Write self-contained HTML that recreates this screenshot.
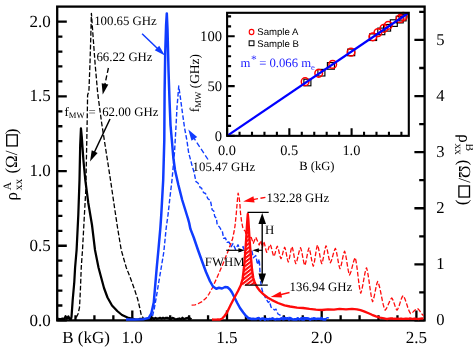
<!DOCTYPE html>
<html><head><meta charset="utf-8"><title>Magnetoresistance vs B</title>
<style>html,body{margin:0;padding:0;background:#fff;}body{width:473px;height:353px;overflow:hidden;font-family:"Liberation Serif",serif;}svg{will-change:transform;}svg text{text-rendering:geometricPrecision;}</style></head>
<body>
<svg width="473" height="353" viewBox="0 0 473 353" style="display:block">
<defs>
<pattern id="hatch" width="3.1" height="3.1" patternUnits="userSpaceOnUse" patternTransform="rotate(-38)"><rect width="3.1" height="3.1" fill="#ff0a0a"/><rect y="2.1" width="3.1" height="1.0" fill="#fff"/></pattern>
<clipPath id="plot"><rect x="57.2" y="6.6" width="367.4" height="314.4"/></clipPath>
</defs>
<rect width="473" height="353" fill="#fff"/>
<path d="M57.2,320.45h9.6 M57.2,305.51h5.2 M57.2,290.57h5.2 M57.2,275.63h5.2 M57.2,260.69h5.2 M57.2,245.75h9.6 M57.2,230.81h5.2 M57.2,215.87h5.2 M57.2,200.93h5.2 M57.2,185.99h5.2 M57.2,171.05h9.6 M57.2,156.11h5.2 M57.2,141.17h5.2 M57.2,126.23h5.2 M57.2,111.29h5.2 M57.2,96.35h9.6 M57.2,81.41h5.2 M57.2,66.47h5.2 M57.2,51.53h5.2 M57.2,36.59h5.2 M57.2,21.65h9.6 M424.6,320.45h-10.2 M424.6,292.40h-5.4 M424.6,264.35h-10.2 M424.6,236.30h-5.4 M424.6,208.25h-10.2 M424.6,180.20h-5.4 M424.6,152.15h-10.2 M424.6,124.10h-5.4 M424.6,96.05h-10.2 M424.6,68.00h-5.4 M424.6,39.95h-10.2 M424.6,11.90h-5.4 M75.48,320.4v-5.2 M94.42,320.4v-5.2 M113.36,320.4v-5.2 M132.30,320.4v-9.8 M151.24,320.4v-5.2 M170.18,320.4v-5.2 M189.12,320.4v-5.2 M208.06,320.4v-5.2 M227.00,320.4v-9.8 M245.94,320.4v-5.2 M264.88,320.4v-5.2 M283.82,320.4v-5.2 M302.76,320.4v-5.2 M321.70,320.4v-9.8 M340.64,320.4v-5.2 M359.58,320.4v-5.2 M378.52,320.4v-5.2 M397.46,320.4v-5.2 M416.40,320.4v-9.8" stroke="#000" stroke-width="2.3" fill="none"/>
<rect x="57.2" y="6.6" width="367.40000000000003" height="313.79999999999995" fill="none" stroke="#000" stroke-width="2.3"/>
<g clip-path="url(#plot)">
<path d="M76.25,317.50 L78.00,314.00 L79.50,307.50 L80.40,290.00 L81.25,267.50 L82.50,250.00 L84.40,215.00 L85.80,190.00 L86.40,160.00 L87.20,120.00 L87.60,95.00 L88.90,91.50 L90.00,63.00 L90.70,40.00 L91.40,13.30 L92.60,30.00 L95.20,65.00 L97.70,93.25 L101.50,122.00 L106.00,151.00 L110.50,180.00 L114.00,204.00 L117.50,227.50 L121.25,250.00 L126.25,267.50 L130.00,277.00 L134.00,288.00 L137.50,298.50 L139.80,308.00 L141.25,315.00 L143.75,318.75" fill="none" stroke-linejoin="round" stroke="#000" stroke-width="1.3" stroke-dasharray="4.8 2.1"/>
<path d="M58.00,318.43 L59.50,319.15 L61.00,319.06 L62.50,318.56 L64.50,318.90 L65.60,316.20 L67.00,318.60 L68.40,316.40 L69.50,318.80 L71.00,319.00 L71.50,317.00 L72.70,300.00 L74.30,282.00 L75.10,267.50 L76.60,250.00 L78.30,215.00 L79.50,180.00 L80.20,145.00 L80.95,128.30 L81.80,137.00 L83.40,160.00 L85.30,180.00 L88.30,203.00 L92.00,225.00 L95.00,250.00 L98.50,267.50 L100.50,275.00 L104.00,288.00 L107.50,297.50 L112.00,305.50 L117.50,311.25 L122.00,315.00 L127.50,317.50 L135.00,319.30 L137.00,319.56 L138.50,319.56 L140.00,318.85 L141.50,318.87 L143.00,319.47 L144.50,319.39 L146.00,319.34 L147.50,319.05 L149.00,319.28 L151.00,318.35 L152.50,318.00 L154.00,319.00 L155.50,317.84 L157.00,318.77 L158.50,318.43 L160.00,317.82 L161.50,318.71 L163.00,317.77 L164.50,318.57 L166.00,317.84 L167.50,317.88 L169.00,318.55 L170.50,319.35 L172.00,317.95 L173.50,318.15 L175.00,318.95 L176.50,319.60 L178.00,318.85 L179.50,318.49 L181.00,319.65 L182.50,317.79 L184.00,319.42 L185.50,318.28 L187.00,317.99 L188.50,317.94 L190.00,318.32 L191.50,319.33" fill="none" stroke-linejoin="round" stroke="#000" stroke-width="2.25"/>
<path d="M152.50,316.00 L154.40,308.00 L156.25,297.50 L158.80,282.00 L161.25,267.50 L163.75,252.50 L166.25,227.50 L168.00,215.00 L170.00,197.00 L172.00,180.00 L174.50,152.50 L175.80,130.00 L177.00,107.50 L178.75,86.00 L180.70,100.00 L182.60,114.00 L184.50,127.50 L187.00,141.00 L188.60,152.50 L191.90,165.00 L194.00,172.00 L196.00,181.70 L198.00,183.00 L200.20,187.60 L201.50,188.00 L203.60,192.70 L205.50,193.50 L207.90,198.70 L210.40,200.50 L211.20,204.50 L212.10,209.70 L213.80,211.00 L214.70,216.50 L216.40,218.00 L217.20,225.00 L219.50,227.00 L221.00,229.70 L222.30,231.00 L223.60,238.20 L225.50,238.00 L227.00,242.40 L229.00,242.00 L231.20,246.70 L233.00,243.60 L235.50,249.40 L238.00,244.80 L240.60,251.20 L243.10,246.50 L244.80,253.60 L247.00,248.50 L249.20,254.50 L251.60,249.80 L253.30,257.70 L255.80,255.60 L257.50,264.50 L259.20,259.20 L259.80,268.00 L260.20,279.00 L261.00,284.00 L261.90,289.00 L263.00,293.00 L265.00,297.00 L268.25,302.50 L269.50,301.50 L271.00,307.00 L274.50,310.00 L276.00,309.20 L278.00,314.00 L282.00,316.25 L284.00,317.72 L285.50,317.43 L287.00,318.07 L288.50,317.54 L290.00,317.35 L291.50,318.08 L293.00,319.22 L294.50,318.96 L296.00,318.88 L297.50,317.69 L299.00,318.38 L300.50,317.81 L302.00,317.58 L303.50,317.43 L305.00,317.67 L306.50,319.24 L308.00,319.02 L309.50,318.97 L311.00,318.96 L312.50,317.63 L314.00,317.88 L315.50,318.58 L317.00,318.81 L318.50,319.08 L320.00,319.14 L321.50,317.39 L323.00,318.53 L324.50,318.68 L326.00,318.31 L327.50,317.59 L329.00,318.24" fill="none" stroke-linejoin="round" stroke="#103cff" stroke-width="1.4" stroke-dasharray="4.6 2.1"/>
<path d="M191.60,305.10 L195.00,304.90 L198.00,303.80 L202.00,301.60 L205.60,298.60 L208.80,294.30 L212.30,288.00 L217.50,276.50 L222.50,265.00 L227.50,252.50 L232.50,239.00 L234.00,232.00 L235.00,226.00 L236.25,214.00 L237.20,202.50 L238.10,193.20 L239.00,196.50 L239.80,203.00 L240.50,213.00 L241.50,221.00 L242.70,227.20 L243.80,229.80 L245.20,231.00 L246.50,236.00 L248.00,233.00 L249.40,238.50 L250.70,236.00 L253.30,243.30 L255.80,237.30 L259.20,245.00 L260.90,240.70 L262.30,247.50 L262.48,247.04 L262.65,246.36 L262.82,245.50 L263.00,244.55 L263.18,243.60 L263.35,242.74 L263.52,242.06 L263.70,241.60 L264.09,242.43 L264.48,243.68 L264.86,245.26 L265.25,247.00 L265.64,248.74 L266.02,250.32 L266.41,251.57 L266.80,252.40 L267.23,251.79 L267.65,250.87 L268.07,249.73 L268.50,248.45 L268.93,247.17 L269.35,246.03 L269.77,245.11 L270.20,244.50 L270.66,245.42 L271.12,246.80 L271.59,248.53 L272.05,250.45 L272.51,252.37 L272.97,254.10 L273.44,255.48 L273.90,256.40 L274.32,255.61 L274.75,254.43 L275.18,252.95 L275.60,251.30 L276.02,249.65 L276.45,248.17 L276.88,246.99 L277.30,246.20 L277.76,247.16 L278.23,248.59 L278.69,250.40 L279.15,252.40 L279.61,254.40 L280.07,256.21 L280.54,257.64 L281.00,258.60 L281.46,257.73 L281.93,256.42 L282.39,254.77 L282.85,252.95 L283.31,251.13 L283.77,249.48 L284.24,248.17 L284.70,247.30 L285.15,248.43 L285.60,250.14 L286.05,252.28 L286.50,254.65 L286.95,257.02 L287.40,259.16 L287.85,260.87 L288.30,262.00 L288.76,260.82 L289.23,259.05 L289.69,256.82 L290.15,254.35 L290.61,251.88 L291.07,249.65 L291.54,247.88 L292.00,246.70 L292.48,248.01 L292.95,249.98 L293.43,252.45 L293.90,255.20 L294.38,257.95 L294.85,260.42 L295.32,262.39 L295.80,263.70 L296.39,262.47 L296.98,260.61 L297.56,258.28 L298.15,255.70 L298.74,253.12 L299.32,250.79 L299.91,248.93 L300.50,247.70 L301.04,249.07 L301.57,251.12 L302.11,253.69 L302.65,256.55 L303.19,259.41 L303.73,261.98 L304.26,264.03 L304.80,265.40 L305.32,264.06 L305.85,262.04 L306.38,259.51 L306.90,256.70 L307.43,253.89 L307.95,251.36 L308.48,249.34 L309.00,248.00 L309.54,249.40 L310.07,251.51 L310.61,254.16 L311.15,257.10 L311.69,260.04 L312.23,262.69 L312.76,264.80 L313.30,266.20 L313.82,264.56 L314.35,262.11 L314.88,259.02 L315.40,255.60 L315.93,252.18 L316.45,249.09 L316.98,246.64 L317.50,245.00 L318.04,246.44 L318.57,248.61 L319.11,251.33 L319.65,254.35 L320.19,257.37 L320.73,260.09 L321.26,262.26 L321.80,263.70 L322.32,262.32 L322.85,260.24 L323.38,257.64 L323.90,254.75 L324.43,251.86 L324.95,249.26 L325.48,247.18 L326.00,245.80 L326.54,247.11 L327.07,249.08 L327.61,251.55 L328.15,254.30 L328.69,257.05 L329.23,259.52 L329.76,261.49 L330.30,262.80 L330.94,261.69 L331.57,260.02 L332.21,257.93 L332.85,255.60 L333.49,253.27 L334.12,251.18 L334.76,249.51 L335.40,248.40 L335.97,249.97 L336.55,252.32 L337.12,255.27 L337.70,258.55 L338.27,261.83 L338.85,264.78 L339.43,267.13 L340.00,268.70 L340.57,267.35 L341.15,265.32 L341.73,262.78 L342.30,259.95 L342.88,257.12 L343.45,254.58 L344.03,252.55 L344.60,251.20 L345.21,253.04 L345.83,255.79 L346.44,259.26 L347.05,263.10 L347.66,266.94 L348.27,270.41 L348.89,273.16 L349.50,275.00 L350.21,273.66 L350.93,271.64 L351.64,269.11 L352.35,266.30 L353.06,263.49 L353.77,260.96 L354.49,258.94 L355.20,257.60 L355.89,260.35 L356.57,264.47 L357.26,269.65 L357.95,275.40 L358.64,281.15 L359.32,286.33 L360.01,290.45 L360.70,293.20 L361.43,291.24 L362.15,288.30 L362.88,284.60 L363.60,280.50 L364.32,276.40 L365.05,272.70 L365.77,269.76 L366.50,267.80 L367.26,270.42 L368.02,274.34 L368.79,279.28 L369.55,284.75 L370.31,290.22 L371.08,295.16 L371.84,299.08 L372.60,301.70 L373.24,300.13 L373.88,297.78 L374.51,294.83 L375.15,291.55 L375.79,288.27 L376.43,285.32 L377.06,282.97 L377.70,281.40 L378.62,283.62 L379.55,286.96 L380.48,291.15 L381.40,295.80 L382.32,300.45 L383.25,304.64 L384.18,307.98 L385.10,310.20 L385.94,309.26 L386.78,307.84 L387.61,306.07 L388.45,304.10 L389.29,302.13 L390.12,300.36 L390.96,298.94 L391.80,298.00 L392.45,298.94 L393.10,300.36 L393.75,302.13 L394.40,304.10 L395.05,306.07 L395.70,307.84 L396.35,309.26 L397.00,310.20 L397.76,309.07 L398.52,307.36 L399.29,305.22 L400.05,302.85 L400.81,300.48 L401.58,298.34 L402.34,296.63 L403.10,295.50 L404.04,296.90 L404.98,298.99 L405.91,301.63 L406.85,304.55 L407.79,307.47 L408.73,310.11 L409.66,312.20 L410.60,313.60 L411.45,313.21 L412.30,312.62 L413.15,311.87 L414.00,311.05 L414.85,310.23 L415.70,309.48 L416.55,308.89 L417.40,308.50 L418.17,309.05 L418.95,309.87 L419.73,310.90 L420.50,312.05 L421.27,313.20 L422.05,314.23 L422.83,315.05 L423.60,315.60" fill="none" stroke-linejoin="round" stroke="#ff0a0a" stroke-width="1.3" stroke-dasharray="4.6 2.0"/>
<path d="M126.00,319.60 L135.00,319.40 L143.00,319.20 L148.75,318.00 L151.25,313.75 L153.75,302.50 L156.75,267.50 L158.40,250.00 L160.40,227.50 L161.25,215.00 L163.20,180.00 L164.30,140.00 L164.60,92.00 L165.20,54.00 L166.10,25.00 L166.80,13.40 L167.50,29.00 L168.50,70.00 L169.50,100.00 L170.50,125.00 L172.00,142.00 L173.30,157.50 L175.00,170.00 L178.40,185.00 L182.20,200.00 L185.00,209.00 L187.00,215.50 L188.00,218.60 L189.20,223.00 L190.40,228.90 L193.75,237.50 L198.00,250.00 L202.50,262.50 L206.00,272.00 L210.00,281.25 L213.00,286.50 L216.25,288.75 L219.00,287.80 L222.00,288.50 L225.00,287.00 L227.50,287.30 L230.00,289.50 L232.00,292.50 L237.00,302.50 L240.00,308.00 L243.25,312.50 L246.00,316.00 L248.25,318.00 L250.00,318.48 L251.50,318.97 L253.00,318.69 L254.50,319.07 L256.00,319.10 L257.50,318.20 L259.00,318.12 L260.50,319.44 L262.00,318.51 L263.50,318.47 L265.00,319.69 L266.50,318.85 L268.00,319.44 L269.50,318.86 L271.00,319.12 L272.50,318.34 L274.00,319.12 L275.50,319.49 L277.00,318.94 L278.50,319.29 L280.00,319.17 L281.50,318.20 L283.00,319.31 L284.50,319.05 L286.00,318.58 L287.50,318.15 L289.00,319.48 L290.50,318.86 L292.00,319.25 L293.50,319.51 L295.00,319.24 L296.50,319.57 L298.00,318.73 L299.50,319.38 L301.00,318.81 L302.50,319.60 L304.00,319.51 L305.50,318.26 L307.00,318.32 L308.50,318.45 L310.00,319.64 L311.50,318.80 L313.00,319.10 L314.50,318.58 L316.00,318.91 L317.50,318.72 L319.00,318.66 L320.50,319.04 L322.00,319.03 L323.50,319.55 L325.00,319.19 L326.50,319.59" fill="none" stroke-linejoin="round" stroke="#103cff" stroke-width="2.5"/>
<path d="M240.80,285.20 L242.60,279.00 L243.70,270.00 L244.60,260.00 L245.40,250.00 L246.10,240.00 L246.80,228.00 L247.40,219.00 L247.80,214.00 L248.30,219.00 L248.90,228.00 L249.60,240.00 L250.40,250.00 L251.20,260.00 L252.10,270.00 L253.30,278.00 L254.80,282.80 L255.60,285.20Z" fill="url(#hatch)" stroke="none"/>
<path d="M212.00,319.47 L213.50,319.55 L215.00,319.58 L216.50,319.67 L218.00,319.54 L219.50,319.65 L222.00,318.75 L224.50,316.00 L227.00,312.50 L230.60,305.00 L234.50,297.50 L238.00,291.00 L240.80,285.20 L242.60,279.00 L243.70,270.00 L244.60,260.00 L245.40,250.00 L246.10,240.00 L246.80,228.00 L247.40,219.00 L247.80,214.00 L248.30,219.00 L248.90,228.00 L249.60,240.00 L250.40,250.00 L251.20,260.00 L252.10,270.00 L253.30,278.00 L254.80,282.80 L257.00,287.00 L260.00,291.00 L263.25,294.10 L267.50,297.50 L272.00,300.10 L278.00,303.00 L284.50,305.40 L290.00,306.50 L297.00,307.60 L303.00,308.00 L309.50,308.90 L316.00,309.60 L322.00,310.00 L328.00,309.30 L334.00,309.60 L339.50,308.90 L346.00,309.40 L352.00,308.80 L357.00,309.30 L360.50,310.10 L364.00,311.30 L368.00,313.00 L372.00,314.80 L376.00,316.30 L380.00,317.60 L384.00,318.40 L386.00,318.93 L387.50,318.96 L389.00,318.69 L390.50,318.51 L392.00,318.30 L393.50,318.83 L395.00,318.68 L396.50,318.91 L398.00,318.60 L399.50,318.92 L401.00,318.52 L402.50,318.94 L404.00,318.88 L405.50,318.63 L407.00,318.73 L408.50,318.85 L410.00,318.45 L411.50,318.74 L413.00,318.94 L414.50,318.51 L416.00,318.94 L417.50,318.85 L419.00,318.98 L420.50,318.57 L422.00,318.37 L423.50,318.94" fill="none" stroke-linejoin="round" stroke="#ff0a0a" stroke-width="2.35"/>
</g>
<path d="M110.00,119.00L93.75,153.54" stroke="#000" stroke-width="1.5" fill="none"/>
<path d="M90.00,161.50L91.74,150.16L97.62,152.93Z" fill="#000"/>
<path d="M108.40,68.00L104.54,86.00" stroke="#000" stroke-width="1.35" fill="none" stroke-dasharray="5 2.6"/>
<path d="M102.70,94.60L101.68,83.13L108.33,84.56Z" fill="#000"/>
<path d="M142.10,33.70L158.55,49.50" stroke="#103cff" stroke-width="1.5" fill="none"/>
<path d="M164.90,55.60L154.72,50.32L159.22,45.64Z" fill="#103cff"/>
<path d="M208.00,159.50L193.14,136.95" stroke="#103cff" stroke-width="1.35" fill="none" stroke-dasharray="5 2.6"/>
<path d="M188.30,129.60L197.19,136.91L191.51,140.66Z" fill="#103cff"/>
<path d="M265.40,197.30L251.85,199.86" stroke="#ff0a0a" stroke-width="1.35" fill="none" stroke-dasharray="5 2.6"/>
<path d="M243.20,201.50L253.41,196.31L254.60,202.60Z" fill="#ff0a0a"/>
<path d="M289.50,292.50L279.17,294.90" stroke="#ff0a0a" stroke-width="1.5" fill="none"/>
<path d="M270.60,296.90L280.61,291.39L282.02,297.43Z" fill="#ff0a0a"/>
<path d="M247.5,212.3H268.7M244.9,285.1H267.8" stroke="#000" stroke-width="1.3" fill="none"/>
<path d="M262.20,221.80L262.20,275.80" stroke="#000" stroke-width="1.4" fill="none"/>
<path d="M262.20,284.60L258.40,273.60L266.00,273.60Z" fill="#000"/>
<path d="M262.20,213.00L258.40,224.00L266.00,224.00Z" fill="#000"/>
<path d="M226.20,250.30L239.70,250.30" stroke="#000" stroke-width="1.2" fill="none"/>
<path d="M244.90,250.30L238.40,252.40L238.40,248.20Z" fill="#000"/>
<path d="M262.20,250.30L257.60,250.30" stroke="#000" stroke-width="1.2" fill="none"/>
<path d="M252.40,250.30L258.90,248.20L258.90,252.40Z" fill="#000"/>
<rect x="227.1" y="12.8" width="181.70000000000002" height="123.05" fill="#fff" stroke="none"/>
<path d="M227.1,135.85h7.6 M227.1,125.90h4.0 M227.1,115.94h4.0 M227.1,105.99h4.0 M227.1,96.03h4.0 M227.1,86.08h7.6 M227.1,76.13h4.0 M227.1,66.17h4.0 M227.1,56.22h4.0 M227.1,46.26h4.0 M227.1,36.31h7.6 M227.1,26.36h4.0 M227.1,16.40h4.0 M227.10,135.85v-7.6 M239.55,135.85v-4.0 M252.00,135.85v-4.0 M264.45,135.85v-4.0 M276.90,135.85v-4.0 M289.35,135.85v-7.6 M301.80,135.85v-4.0 M314.25,135.85v-4.0 M326.70,135.85v-4.0 M339.15,135.85v-4.0 M351.60,135.85v-7.6 M364.05,135.85v-4.0 M376.50,135.85v-4.0 M388.95,135.85v-4.0 M401.40,135.85v-4.0" stroke="#000" stroke-width="2.1" fill="none"/>
<rect x="303.90" y="79.20" width="7" height="6.6" fill="none" stroke="#000" stroke-width="1.15"/>
<rect x="317.90" y="69.40" width="7" height="6.6" fill="none" stroke="#000" stroke-width="1.15"/>
<rect x="327.40" y="62.60" width="7" height="6.6" fill="none" stroke="#000" stroke-width="1.15"/>
<rect x="347.70" y="49.10" width="7" height="6.6" fill="none" stroke="#000" stroke-width="1.15"/>
<rect x="369.60" y="33.90" width="7" height="6.6" fill="none" stroke="#000" stroke-width="1.15"/>
<rect x="377.80" y="28.10" width="7" height="6.6" fill="none" stroke="#000" stroke-width="1.15"/>
<rect x="383.60" y="24.50" width="7" height="6.6" fill="none" stroke="#000" stroke-width="1.15"/>
<rect x="390.30" y="19.80" width="7" height="6.6" fill="none" stroke="#000" stroke-width="1.15"/>
<rect x="396.20" y="16.30" width="7" height="6.6" fill="none" stroke="#000" stroke-width="1.15"/>
<rect x="399.10" y="14.30" width="7" height="6.6" fill="none" stroke="#000" stroke-width="1.15"/>
<ellipse cx="305.10" cy="81.70" rx="3.8" ry="3.9" fill="none" stroke="#f00" stroke-width="1.5"/>
<ellipse cx="318.70" cy="73.30" rx="3.8" ry="3.9" fill="none" stroke="#f00" stroke-width="1.5"/>
<ellipse cx="332.70" cy="64.40" rx="3.8" ry="3.9" fill="none" stroke="#f00" stroke-width="1.5"/>
<ellipse cx="351.00" cy="52.20" rx="3.8" ry="3.9" fill="none" stroke="#f00" stroke-width="1.5"/>
<ellipse cx="372.80" cy="36.80" rx="3.8" ry="3.9" fill="none" stroke="#f00" stroke-width="1.5"/>
<ellipse cx="377.90" cy="32.60" rx="3.8" ry="3.9" fill="none" stroke="#f00" stroke-width="1.5"/>
<ellipse cx="383.90" cy="28.30" rx="3.8" ry="3.9" fill="none" stroke="#f00" stroke-width="1.5"/>
<ellipse cx="388.30" cy="25.30" rx="3.8" ry="3.9" fill="none" stroke="#f00" stroke-width="1.5"/>
<ellipse cx="400.10" cy="18.70" rx="3.8" ry="3.9" fill="none" stroke="#f00" stroke-width="1.5"/>
<ellipse cx="403.30" cy="16.40" rx="3.8" ry="3.9" fill="none" stroke="#f00" stroke-width="1.5"/>
<path d="M227.1,135.85L408.0,13.200000000000001" stroke="#0000ff" stroke-width="2.3" fill="none"/>
<rect x="227.1" y="12.8" width="181.70000000000002" height="123.05" fill="none" stroke="#000" stroke-width="2.1"/>
<ellipse cx="251.55" cy="32" rx="2.35" ry="2.65" fill="none" stroke="#f00" stroke-width="1.1"/>
<rect x="249.15" y="40.85" width="4.8" height="4.8" fill="none" stroke="#000" stroke-width="1.05"/>
<text x="50.8" y="325.55" font-size="17" text-anchor="end" fill="#000" font-family="Liberation Serif, serif" >0.0</text>
<text x="50.8" y="250.85" font-size="17" text-anchor="end" fill="#000" font-family="Liberation Serif, serif" >0.5</text>
<text x="50.8" y="176.15" font-size="17" text-anchor="end" fill="#000" font-family="Liberation Serif, serif" >1.0</text>
<text x="50.8" y="101.45" font-size="17" text-anchor="end" fill="#000" font-family="Liberation Serif, serif" >1.5</text>
<text x="50.8" y="26.75" font-size="17" text-anchor="end" fill="#000" font-family="Liberation Serif, serif" >2.0</text>
<text x="436.2" y="325.05" font-size="16.6" text-anchor="start" fill="#000" font-family="Liberation Serif, serif" >0</text>
<text x="436.2" y="268.95" font-size="16.6" text-anchor="start" fill="#000" font-family="Liberation Serif, serif" >1</text>
<text x="436.2" y="212.85" font-size="16.6" text-anchor="start" fill="#000" font-family="Liberation Serif, serif" >2</text>
<text x="436.2" y="156.75" font-size="16.6" text-anchor="start" fill="#000" font-family="Liberation Serif, serif" >3</text>
<text x="436.2" y="100.65" font-size="16.6" text-anchor="start" fill="#000" font-family="Liberation Serif, serif" >4</text>
<text x="436.2" y="44.55" font-size="16.6" text-anchor="start" fill="#000" font-family="Liberation Serif, serif" >5</text>
<text x="132.2" y="342.6" font-size="17" text-anchor="middle" fill="#000" font-family="Liberation Serif, serif" >1.0</text>
<text x="226.9" y="342.6" font-size="17" text-anchor="middle" fill="#000" font-family="Liberation Serif, serif" >1.5</text>
<text x="321.6" y="342.6" font-size="17" text-anchor="middle" fill="#000" font-family="Liberation Serif, serif" >2.0</text>
<text x="416.3" y="342.6" font-size="17" text-anchor="middle" fill="#000" font-family="Liberation Serif, serif" >2.5</text>
<text x="62.2" y="343.2" font-size="17" text-anchor="start" fill="#000" font-family="Liberation Serif, serif" >B (kG)</text>
<text x="94.2" y="24.8" font-size="12.8" text-anchor="start" fill="#000" font-family="Liberation Serif, serif" >100.65 GHz</text>
<text x="96.4" y="61.4" font-size="12.8" text-anchor="start" fill="#000" font-family="Liberation Serif, serif" >66.22 GHz</text>
<text x="64.6" y="115.8" font-size="12.8" text-anchor="start" fill="#000" font-family="Liberation Serif, serif" >f<tspan font-size="8.6" dy="2.6">MW</tspan><tspan dy="-2.6" x="88.4">=</tspan><tspan x="102.2">62.00 GHz</tspan></text>
<text x="192.6" y="171.3" font-size="12.8" text-anchor="start" fill="#000" font-family="Liberation Serif, serif" >105.47 GHz</text>
<text x="266.6" y="202.1" font-size="12.8" text-anchor="start" fill="#000" font-family="Liberation Serif, serif" >132.28 GHz</text>
<text x="289.6" y="291.3" font-size="12.8" text-anchor="start" fill="#000" font-family="Liberation Serif, serif" >136.94 GHz</text>
<text x="204.8" y="266.4" font-size="12.8" text-anchor="start" fill="#000" font-family="Liberation Serif, serif" >FWHM</text>
<text x="265.1" y="234.3" font-size="12.8" text-anchor="start" fill="#000" font-family="Liberation Serif, serif" >H</text>
<text x="222.0" y="140.75" font-size="14.6" text-anchor="end" fill="#000" font-family="Liberation Serif, serif" >0</text>
<text x="222.0" y="90.98" font-size="14.6" text-anchor="end" fill="#000" font-family="Liberation Serif, serif" >50</text>
<text x="222.0" y="41.21" font-size="14.6" text-anchor="end" fill="#000" font-family="Liberation Serif, serif" >100</text>
<text x="226.9" y="155.3" font-size="14.4" text-anchor="middle" fill="#000" font-family="Liberation Serif, serif" >0.0</text>
<text x="289.15" y="155.3" font-size="14.4" text-anchor="middle" fill="#000" font-family="Liberation Serif, serif" >0.5</text>
<text x="351.4" y="155.3" font-size="14.4" text-anchor="middle" fill="#000" font-family="Liberation Serif, serif" >1.0</text>
<text x="299.2" y="170.4" font-size="12.6" text-anchor="start" fill="#000" font-family="Liberation Serif, serif" >B (kG)</text>
<text x="257.3" y="35.3" font-size="9.6" text-anchor="start" fill="#000" font-family="Liberation Sans, sans-serif" >Sample A</text>
<text x="257.3" y="46.5" font-size="9.6" text-anchor="start" fill="#000" font-family="Liberation Sans, sans-serif" >Sample B</text>
<text x="240.4" y="66.7" font-size="12.7" text-anchor="start" fill="#1a1aff" font-family="Liberation Serif, serif" >m<tspan font-size="11.5" dy="-3.6" dx="0.6">*</tspan><tspan dy="3.6" dx="-0.6"> = 0.066 m</tspan><tspan font-size="8.6" dy="2.8">e</tspan></text>
<text transform="translate(198.5,112.2) rotate(-90)" font-size="13.4" font-family="Liberation Serif, serif">f<tspan font-size="8.8" dy="2.8">MW</tspan><tspan dy="-2.8"> (GHz)</tspan></text>
<g transform="translate(17.2,200.4) rotate(-90)" font-family="Liberation Serif, serif" font-size="17">
<text x="0" y="0">ρ</text>
<text x="10.2" y="-6.6" font-size="11.4">A</text>
<text x="10.2" y="4.4" font-size="11.4">xx</text>
<text x="26.8" y="0">(Ω/</text>
<rect x="54.5" y="-10.5" width="11" height="10.6" fill="none" stroke="#000" stroke-width="1.3"/>
<text x="66.2" y="0">)</text>
</g>
<g transform="translate(459.0,134.2) rotate(90)" font-family="Liberation Serif, serif" font-size="17">
<text x="0" y="0">ρ</text>
<text x="9.2" y="-6.6" font-size="11.4">B</text>
<text x="9.2" y="4.4" font-size="11.4">xx</text>
<text x="25.6" y="0">(Ω/</text>
<rect x="51.8" y="-10.5" width="11" height="10.6" fill="none" stroke="#000" stroke-width="1.3"/>
<text x="65.4" y="0">)</text>
</g>
</svg>
</body></html>
